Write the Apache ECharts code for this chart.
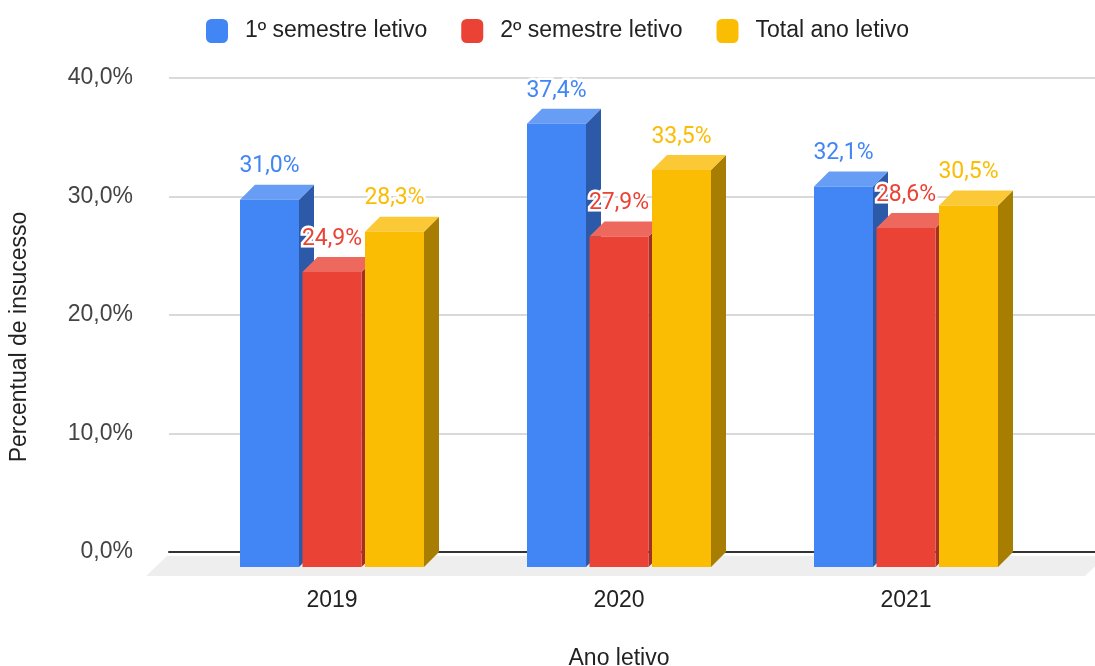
<!DOCTYPE html>
<html>
<head>
<meta charset="utf-8">
<script src="https://cdn.jsdelivr.net/npm/echarts@6/dist/echarts.min.js"></script>
<style>
  html, body { margin: 0; padding: 0; background: #fff; }
  #chart { width: 1095px; height: 666px; }
</style>
</head>
<body>
<div id="chart"></div>
<script>
// dados
var anos = ['2019', '2020', '2021'];
var semestre1 = [31.0, 37.4, 32.1];
var semestre2 = [24.9, 27.9, 28.6];
var totalAno = [28.3, 33.5, 30.5];
var nomes = ['1º semestre letivo', '2º semestre letivo', 'Total ano letivo'];

var cores = [
  { frente: '#4285F4', topo: '#689DF6', lado: '#2D5AA8' },
  { frente: '#EA4335', topo: '#EE695D', lado: '#A32F25' },
  { frente: '#FBBC04', topo: '#FCC936', lado: '#A87E02' }
];

var BAR_W = 59, PASSO = 62.5, PROF = 15;

function pct(v) {
  return v.toFixed(1).replace('.', ',') + '%';
}

function barras(idx) {
  return function (params, api) {
    var cat = api.value(0), v = api.value(1);
    var topo = api.coord([cat, v]);
    var base = api.coord([cat, 0]);
    var cx = topo[0] + (idx - 1) * PASSO;
    var xl = cx - BAR_W / 2, xr = cx + BAR_W / 2;
    var yt = topo[1], yb = base[1], d = PROF;
    var c = cores[idx];
    var ty = yt - d - 18;
    return {
      type: 'group',
      children: [
        { type: 'polygon', shape: { points: [[xr, yt], [xr + d, yt - d], [xr + d, yb - d], [xr, yb]] }, style: { fill: c.lado } },
        { type: 'polygon', shape: { points: [[xl, yt], [xl + d, yt - d], [xr + d, yt - d], [xr, yt]] }, style: { fill: c.topo } },
        { type: 'rect', shape: { x: xl, y: yt, width: BAR_W, height: yb - yt }, style: { fill: c.frente } },
        // halo branco por baixo do texto
        {
          type: 'text', z2: 99,
          style: {
            text: pct(v), x: cx, y: ty, align: 'center', verticalAlign: 'middle',
            fill: '#fff', font: '23px Roboto', stroke: '#fff', lineWidth: 5
          }
        },
        {
          type: 'text', z2: 100,
          style: {
            text: pct(v), x: cx, y: ty, align: 'center', verticalAlign: 'middle',
            fill: c.frente, font: '23px Roboto'
          }
        }
      ]
    };
  };
}

function chao(params, api) {
  var g = params.coordSys;
  var y0 = api.coord([0, 0])[1];
  var esq = g.x, dir = g.x + g.width;
  return {
    type: 'polygon',
    shape: { points: [[esq - 2, y0 + 4], [dir + 11, y0 + 4], [dir - 10, y0 + 24], [esq - 23, y0 + 24]] },
    style: { fill: '#EEEEEE' }
  };
}

var valores = [semestre1, semestre2, totalAno];
var series = [{
  type: 'custom', name: 'chao', xAxisIndex: 0, yAxisIndex: 0, z: 1,
  renderItem: chao, data: [[0, 0]], silent: true
}];
valores.forEach(function (arr, i) {
  series.push({
    type: 'custom',
    name: nomes[i],
    xAxisIndex: 1, yAxisIndex: 1,
    itemStyle: { color: cores[i].frente },
    renderItem: barras(i),
    encode: { x: 0, y: 1 },
    data: arr.map(function (v, k) { return [k, v]; })
  });
});

var chart = echarts.init(document.getElementById('chart'));
chart.setOption({
  animation: false,
  legend: {
    data: nomes, top: 14, left: 201,
    icon: 'roundRect', itemWidth: 22, itemHeight: 24, itemGap: 34,
    textStyle: { fontSize: 23, fontFamily: 'Liberation Sans', color: '#222', padding: [0, 0, 0, 12] }
  },
  grid: [
    { left: 169, right: 0, top: 78, bottom: 114, outerBoundsMode: 'none' },
    { left: 188.5, right: 45.5, top: 93, bottom: 99, outerBoundsMode: 'none' }
  ],
  xAxis: [
    {
      type: 'value', gridIndex: 0, min: 0, max: 1,
      axisLine: { show: true, onZero: false, lineStyle: { color: '#333', width: 2 } },
      axisTick: { show: false }, axisLabel: { show: false }, splitLine: { show: false }
    },
    {
      type: 'category', gridIndex: 1, data: anos,
      axisLine: { show: false }, axisTick: { show: false },
      axisLabel: { fontSize: 23, fontFamily: 'Liberation Sans', color: '#222', margin: 22 },
      name: 'Ano letivo', nameLocation: 'middle', nameGap: 80,
      nameTextStyle: { fontSize: 23, fontFamily: 'Liberation Sans', color: '#222' }
    }
  ],
  yAxis: [
    {
      type: 'value', gridIndex: 0, min: 0, max: 40, interval: 10,
      axisLine: { show: false }, axisTick: { show: false },
      axisLabel: { formatter: pct, margin: 36, fontSize: 23, fontFamily: 'Liberation Sans', color: '#444' },
      splitLine: { lineStyle: { color: '#CCCCCC', width: 1.5 } }
    },
    { type: 'value', gridIndex: 1, min: 0, max: 40, show: false }
  ],
  graphic: [{
    type: 'text', x: 20, y: 337, rotation: Math.PI / 2,
    style: {
      text: 'Percentual de insucesso', align: 'center', verticalAlign: 'middle',
      font: '23px "Liberation Sans"', fill: '#222'
    }
  }],
  series: series
});
</script>
</body>
</html>
